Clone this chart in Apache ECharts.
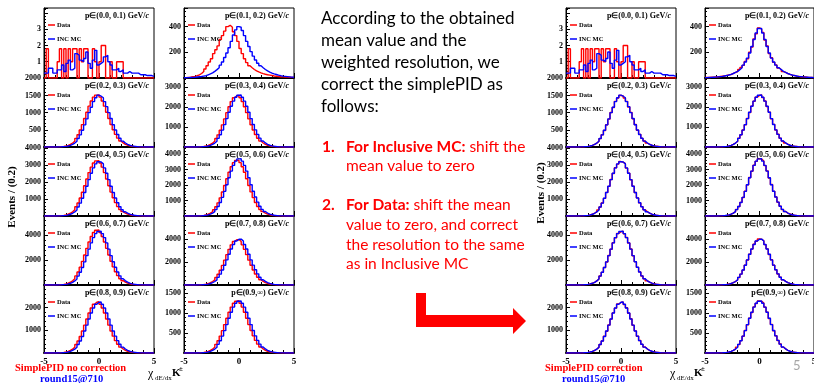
<!DOCTYPE html>
<html><head><meta charset="utf-8">
<script src="https://cdn.jsdelivr.net/npm/echarts@6/dist/echarts.min.js"></script>
<style>html,body{margin:0;padding:0;background:#fff}#c{width:814px;height:383px}</style>
</head><body><div id="c"></div>
<script>
// bin left edges (width 0.2)
const binEdges = [-5,-4.8,-4.6,-4.4,-4.2,-4,-3.8,-3.6,-3.4,-3.2,-3,-2.8,-2.6,-2.4,-2.2,-2,-1.8,-1.6,-1.4,-1.2,-1,-0.8,-0.6,-0.4,-0.2,0,0.2,0.4,0.6,0.8,1,1.2,1.4,1.6,1.8,2,2.2,2.4,2.6,2.8,3,3.2,3.4,3.6,3.8,4,4.2,4.4,4.6,4.8];
const momLabels = ['(0.0, 0.1)','(0.1, 0.2)','(0.2, 0.3)','(0.3, 0.4)','(0.4, 0.5)','(0.5, 0.6)','(0.6, 0.7)','(0.7, 0.8)','(0.8, 0.9)','(0.9,\u221e)'];
const yMax  = [4.3, 545, 2010, 3450, 4050, 4450, 5520, 6000, 3000, 1700];
const yStep = [1, 200, 500, 1000, 1000, 1000, 2000, 2000, 1000, 500];

// ---- p in (0.0,0.1) ----
const mc_p00 = [0.3,0.3,0.6,0.6,0.3, 0.3,0.5,0.5,0.8,0.4, 0.9,1.1,0.5,0.6,1.5, 1.4,1.1,1.0,1.2,1.6, 0.9,0.6,1.1,1.7,0.8, 0.9,1.0,1.3,1.4,1.0, 0.8,0.5,0.5,0.6,0.4, 0.5,0.3,0.3,0.4,0.3, 0.3,0.3,0.3,0.2,0.2, 0.2,0.15,0.15,0.15,0.1];
const data_p00 = [0,1.8,0,0,0, 0,1,1.8,0,1.8, 0,1.8,1,1.8,1.8, 0,1.8,1,1.8,1.8, 0,0,1.8,1,0, 1,2,2,0,0, 1,0,0,1,1, 1,0,0,0,0, 0,0,0,0,0, 0,0,0,0,0];
// ---- p in (0.1,0.2) ----
const mc_p01 = [2,3,4,5,6, 8,10,12,15,18, 25,32,40,52,65, 80,100,125,160,195, 235,285,335,375,400, 395,370,330,285,245, 205,170,140,115,95, 80,66,55,46,38, 32,27,22,18,15, 13,11,9,7,6];
const data_p01 = [3,5,7,10,13, 18,25,35,50,70, 95,125,150,190,220, 250,300,330,365,400, 410,395,360,330,285, 230,190,150,120,95, 80,66,55,47,40, 34,29,25,22,19, 16,14,12,10,9, 8,7,6,5,4];
const mcC_p01 = [3,4,5,6,7, 9,11,13,16,19, 23,28,35,43,52, 65,80,100,125,155, 195,245,300,350,385, 385,350,300,245,195, 155,125,100,80,65, 52,43,35,28,23, 19,16,13,11,9, 7,6,5,4,3];
const dataC_p01 = [4,4,6,6,8, 9,12,14,15,20, 24,27,36,44,50, 66,82,98,128,150, 200,240,305,345,390, 380,355,295,250,190, 158,122,102,78,66, 50,44,34,29,22, 20,15,13,10,9, 8,6,5,4,3];
// ---- p in (0.2,0.3) ----
const mc_p02 = [0,0,0,0,0, 2,3,6,10,18, 30,48,75,114,168, 249,354,488,645,819, 1000,1160,1323,1434,1510, 1480,1434,1323,1175,1000, 830,648,495,363,255, 172,117,78,51,33, 21,14,8,5,3, 2,0,0,0,0];
const data_p02 = [0,0,0,0,2, 3,6,10,18,30, 49,76,116,170,252, 359,494,653,830,1013, 1190,1340,1453,1512,1520, 1453,1340,1190,1013,830, 656,501,368,258,174, 119,79,52,33,21, 14,8,5,3,2, 0,0,0,0,0];
const dataC_p02 = [0,0,0,0,0, 2,4,6,11,17, 31,47,77,112,170, 245,358,482,650,812, 1005,1150,1330,1425,1500, 1490,1425,1330,1165,1010, 820,655,488,368,250, 175,114,80,50,34, 20,14,8,5,3, 2,0,0,0,0];
// ---- p in (0.3,0.4) ----
const mc_p03 = [0,0,0,0,0, 3,5,10,18,31, 52,83,130,198,291, 432,614,845,1118,1420, 1734,2036,2293,2486,2587, 2600,2486,2293,2036,1734, 1420,1123,858,629,442, 299,203,135,88,57, 36,23,13,8,5, 3,0,0,0,0];
const data_p03 = [0,0,0,0,3, 5,10,18,31,51, 82,129,196,288,428, 608,837,1107,1406,1717, 2016,2270,2461,2561,2575, 2461,2270,2016,1717,1406, 1112,849,623,438,296, 201,134,87,56,36, 23,13,8,5,3, 0,0,0,0,0];
const dataC_p03 = [0,0,0,0,0, 3,6,10,17,32, 50,85,128,201,288, 436,608,850,1110,1428, 1725,2045,2285,2495,2580, 2610,2475,2300,2025,1745, 1410,1130,850,635,438, 302,200,138,86,58, 35,24,13,8,5, 3,0,0,0,0];
// ---- p in (0.4,0.5) ----
const mc_p04 = [0,0,0,0,0, 3,6,13,22,38, 64,102,160,243,358, 531,755,1040,1376,1747, 2134,2506,2822,3059,3184, 3170,3059,2822,2506,2134, 1747,1382,1056,774,544, 368,250,166,109,70, 45,29,16,10,6, 3,0,0,0,0];
const data_p04 = [0,0,0,0,3, 6,13,22,39,65, 104,163,247,364,540, 767,1057,1398,1775,2168, 2546,2867,3108,3235,3250, 3108,2867,2546,2168,1775, 1404,1073,786,553,374, 254,169,111,71,46, 29,16,10,6,3, 0,0,0,0,0];
const dataC_p04 = [0,0,0,0,0, 3,7,12,23,37, 66,100,163,240,362, 525,762,1032,1385,1740, 2145,2495,2835,3045,3195, 3160,3070,2810,2515,2125, 1755,1375,1062,768,548, 364,254,163,111,68, 46,28,17,10,6, 3,0,0,0,0];
// ---- p in (0.5,0.6) ----
const mc_p05 = [0,0,0,0,0, 4,7,15,26,44, 74,118,185,281,414, 614,873,1203,1591,2020, 2468,2897,3263,3537,3682, 3690,3537,3263,2897,2468, 2020,1598,1221,895,629, 426,289,192,126,81, 52,33,19,11,7, 4,0,0,0,0];
const data_p05 = [0,0,0,0,4, 7,15,25,43,72, 115,180,273,403,597, 849,1170,1548,1965,2401, 2819,3175,3441,3582,3600, 3441,3175,2819,2401,1965, 1555,1188,871,612,414, 281,187,123,79,51, 32,18,11,7,4, 0,0,0,0,0];
const dataC_p05 = [0,0,0,0,0, 4,8,14,27,43, 76,116,188,278,418, 608,880,1195,1600,2010, 2480,2885,3275,3525,3695, 3675,3550,3250,2910,2455, 2030,1590,1230,888,634, 422,293,189,128,79, 53,32,20,11,7, 4,0,0,0,0];
// ---- p in (0.6,0.7) ----
const mc_p06 = [0,0,0,0,0, 4,9,17,30,52, 86,138,215,327,482, 714,1015,1398,1849,2348, 2868,3367,3793,4111,4279, 4300,4111,3793,3367,2868, 2348,1858,1419,1041,731, 495,335,224,146,95, 60,39,22,13,9, 4,0,0,0,0];
const data_p06 = [0,0,0,0,4, 9,17,31,53,88, 141,220,335,493,730, 1038,1430,1892,2402,2934, 3444,3880,4206,4378,4400, 4206,3880,3444,2934,2402, 1901,1452,1065,748,506, 343,229,149,97,61, 40,23,13,9,4, 0,0,0,0,0];
const dataC_p06 = [0,0,0,0,0, 5,8,18,29,53, 85,140,212,330,478, 720,1008,1405,1840,2360, 2855,3380,3780,4125,4265, 4310,4095,3805,3355,2880, 2335,1870,1410,1048,725, 500,330,228,143,97, 58,40,21,14,8, 4,0,0,0,0];
// ---- p in (0.7,0.8) ----
const mc_p07 = [0,0,0,0,0, 4,8,16,28,48, 80,128,200,304,448, 664,944,1300,1720,2184, 2668,3132,3528,3824,3980, 3990,3824,3528,3132,2668, 2184,1728,1320,968,680, 460,312,208,136,88, 56,36,20,12,8, 4,0,0,0,0];
const data_p07 = [0,0,0,0,4, 8,16,28,48,79, 127,198,301,444,657, 935,1287,1703,2162,2641, 3101,3493,3786,3940,3950, 3786,3493,3101,2641,2162, 1711,1307,958,673,455, 309,206,135,87,55, 36,20,12,8,4, 0,0,0,0,0];
const dataC_p07 = [0,0,0,0,0, 4,9,15,29,47, 82,126,204,300,452, 658,950,1292,1730,2175, 2680,3120,3540,3810,3995, 3975,3840,3515,3145,2655, 2195,1718,1330,960,688, 455,316,205,138,86, 57,35,21,12,8, 4,0,0,0,0];
// ---- p in (0.8,0.9) ----
const mc_p08 = [0,0,0,0,0, 2,5,9,16,27, 45,72,113,171,252, 374,531,731,968,1229, 1501,1762,1985,2151,2239, 2250,2151,1985,1762,1501, 1229,972,743,545,383, 259,176,117,77,50, 32,20,11,7,5, 2,0,0,0,0];
const data_p08 = [0,0,0,0,2, 5,9,16,27,45, 72,113,171,252,374, 531,731,968,1229,1501, 1762,1985,2151,2239,2260, 2151,1985,1762,1501,1229, 972,743,545,383,259, 176,117,77,50,32, 20,11,7,5,2, 0,0,0,0,0];
const dataC_p08 = [0,0,0,0,0, 2,5,10,15,28, 44,73,111,174,249, 378,527,738,962,1235, 1495,1770,1978,2160,2230, 2255,2140,1995,1755,1508, 1222,978,738,549,380, 262,174,119,76,51, 31,21,11,7,5, 2,0,0,0,0];
// ---- p in (0.9,inf) ----
const mc_p09 = [0,0,0,0,0, 1,3,5,9,16, 26,42,65,99,146, 216,307,423,559,710, 867,1018,1147,1243,1294, 1300,1243,1147,1018,867, 710,562,429,315,221, 150,101,68,44,29, 18,12,7,4,3, 1,0,0,0,0];
const data_p09 = [0,0,0,0,1, 3,5,9,16,26, 42,65,99,146,216, 307,423,559,710,867, 1018,1147,1243,1294,1310, 1243,1147,1018,867,710, 562,429,315,221,150, 101,68,44,29,18, 12,7,4,3,1, 0,0,0,0,0];
const dataC_p09 = [0,0,0,0,0, 1,3,6,9,15, 27,41,66,97,148, 214,310,420,563,705, 872,1012,1152,1238,1300, 1290,1248,1142,1022,862, 715,558,432,312,224, 148,103,67,45,28, 19,11,7,4,3, 1,0,0,0,0];

const blocks = [
  { mc:[mc_p00,mc_p01,mc_p02,mc_p03,mc_p04,mc_p05,mc_p06,mc_p07,mc_p08,mc_p09],
    data:[data_p00,data_p01,data_p02,data_p03,data_p04,data_p05,data_p06,data_p07,data_p08,data_p09],
    colLeft:[44,184], colW:[110,110] },
  { mc:[mc_p00,mcC_p01,mc_p02,mc_p03,mc_p04,mc_p05,mc_p06,mc_p07,mc_p08,mc_p09],
    data:[data_p00,dataC_p01,dataC_p02,dataC_p03,dataC_p04,dataC_p05,dataC_p06,dataC_p07,dataC_p08,dataC_p09],
    colLeft:[566,705], colW:[110,109] }
];
const rowTop = [8,78,147,216,285];
const rowH = [70,69,69,69,68];

const SERIF = '"Liberation Serif","Times New Roman",serif';
const SANS = 'Lato, "Open Sans", sans-serif';
const RED = '#ff0000', BLUE = '#0000ff';

function toSteps(vals){
  const d = binEdges.map((x,i)=>[x, vals[i]]);
  d.push([5, vals[vals.length-1]]);
  return d;
}

const grids=[], xAxes=[], yAxes=[], series=[], graphics=[];
let idx=0;
blocks.forEach((blk,b)=>{
  for(let k=0;k<10;k++){
    const r=Math.floor(k/2), c=k%2;
    const L=blk.colLeft[c], T=rowTop[r], W=blk.colW[c], H=rowH[r];
    grids.push({left:L, top:T, width:W, height:H, show:true, borderColor:'#000', borderWidth:1,
      backgroundColor:'transparent', containLabel:false, outerBoundsMode:'none'});
    xAxes.push({gridIndex:idx, type:'value', min:-5, max:5, interval:5,
      axisLine:{show:true, onZero:false, lineStyle:{color:'#000', width:2}},
      axisTick:{show:true, inside:true, length:5, lineStyle:{color:'#000'}},
      minorTick:{show:true, splitNumber:5, length:3, lineStyle:{color:'#000'}},
      splitLine:{show:false},
      axisLabel:{show:r===4, color:'#000', fontFamily:SERIF, fontWeight:'bold', fontSize:9, margin:4}});
    const kk=k;
    yAxes.push({gridIndex:idx, type:'value', min:0, max:yMax[k], interval:yStep[k],
      axisLine:{show:true, onZero:false, lineStyle:{color:'#000', width:1}},
      axisTick:{show:true, inside:true, length:4, lineStyle:{color:'#000'}},
      minorTick:{show:true, splitNumber:5, length:2, lineStyle:{color:'#000'}},
      splitLine:{show:false},
      axisLabel:{show:true, color:'#000', fontFamily:SERIF, fontWeight:'bold', fontSize:8, margin:3,
        showMinLabel:false, showMaxLabel:false,
        formatter:(v)=> (kk===0 && v>3.5) ? '' : String(v)}});
    series.push({type:'line', xAxisIndex:idx, yAxisIndex:idx, step:'end', symbol:'none',
      data:toSteps(blk.data[k]), lineStyle:{color:RED, width:1.4}, z:3, silent:true});
    series.push({type:'line', xAxisIndex:idx, yAxisIndex:idx, step:'end', symbol:'none',
      data:toSteps(blk.mc[k]), lineStyle:{color:BLUE, width:1.4}, z:4, silent:true});
    // panel title
    graphics.push({type:'text', x:L+W-5, y:T+8, z:10, style:{
      text:'p\u2208'+momLabels[k]+' GeV/{i|c}', align:'right', textAlign:'right',
      verticalAlign:'middle', textVerticalAlign:'middle',
      fontFamily:SERIF, fontWeight:'bold', fontSize:8, fill:'#000',
      rich:{i:{fontStyle:'italic', fontFamily:SERIF, fontWeight:'bold', fontSize:8, fill:'#000'}}}});
    // legend
    graphics.push({type:'line', z:10, shape:{x1:L+4,y1:T+17,x2:L+11,y2:T+17}, style:{stroke:RED, lineWidth:1.5}});
    graphics.push({type:'text', x:L+13, y:T+17, z:10, style:{text:'Data', verticalAlign:'middle', textVerticalAlign:'middle',
      fontFamily:SERIF, fontWeight:'bold', fontSize:6.5, fill:'#000'}});
    graphics.push({type:'line', z:10, shape:{x1:L+4,y1:T+31,x2:L+11,y2:T+31}, style:{stroke:BLUE, lineWidth:1.5}});
    graphics.push({type:'text', x:L+13, y:T+31, z:10, style:{text:'INC MC', verticalAlign:'middle', textVerticalAlign:'middle',
      fontFamily:SERIF, fontWeight:'bold', fontSize:6.5, fill:'#000'}});
    idx++;
  }
});

function txt(x,y,text,opt){
  return Object.assign({type:'text', x:x, y:y, z:10}, {style:Object.assign({text:text, verticalAlign:'middle', textVerticalAlign:'middle'}, opt)});
}
// block annotations
[[12,197,'left'],[541,193,'right']].forEach(([x,y])=>{
  const t = txt(x,y,'Events / (0.2)',{align:'center', textAlign:'center', fontFamily:SERIF, fontWeight:'bold', fontSize:11, fill:'#000'});
  t.rotation = Math.PI/2;
  graphics.push(t);
});
graphics.push(txt(15,368,'SimplePID no correction',{fontFamily:SERIF, fontWeight:'bold', fontSize:10.5, fill:RED}));
graphics.push(txt(40,379,'round15@710',{fontFamily:SERIF, fontWeight:'bold', fontSize:10.5, fill:BLUE}));
graphics.push(txt(545,368,'SimplePID correction',{fontFamily:SERIF, fontWeight:'bold', fontSize:10.5, fill:RED}));
graphics.push(txt(562,379,'round15@710',{fontFamily:SERIF, fontWeight:'bold', fontSize:10.5, fill:BLUE}));
[[148],[670]].forEach(([x0])=>{
  graphics.push(txt(x0,374,'\u03c7',{fontFamily:SERIF, fontSize:12, fill:'#000'}));
  graphics.push(txt(x0+7,378,'dE/dx',{fontFamily:SERIF, fontSize:7, fill:'#000'}));
  graphics.push(txt(x0+24,373,'K',{fontFamily:SERIF, fontWeight:'bold', fontSize:11, fill:'#000'}));
  graphics.push(txt(x0+31,369,'\u00b1',{fontFamily:SERIF, fontWeight:'bold', fontSize:7, fill:'#000'}));
});
// middle text
const introLines = ['According to the obtained','mean value and the','weighted resolution, we','correct the simplePID as','follows:'];
introLines.forEach((s,i)=>graphics.push(txt(321,19+i*22,s,{fontFamily:SANS, fontSize:17, fill:'#000'})));
const listLines = [
  [322,147,'1.','{b|For Inclusive MC:} shift the'],
  [346,166,null,'mean value to zero'],
  [322,205,'2.','{b|For Data:} shift the mean'],
  [346,225,null,'value to zero, and correct'],
  [346,245,null,'the resolution to the same'],
  [346,264,null,'as in Inclusive MC']
];
listLines.forEach(([x,y,num,s])=>{
  if(num) graphics.push(txt(x,y,num,{fontFamily:SANS, fontWeight:'bold', fontSize:15.5, fill:RED}));
  graphics.push(txt(346,y,s,{fontFamily:SANS, fontSize:15.5, fill:RED,
    rich:{b:{fontFamily:SANS, fontWeight:'bold', fontSize:15.5, fill:RED}}}));
});
graphics.push({type:'polygon', z:10, shape:{points:[[416,293],[426,293],[426,315],[513,315],[513,308],[526,321],[513,334],[513,327],[416,327]]},
  style:{fill:RED}});
graphics.push(txt(793,366,'5',{fontFamily:SANS, fontSize:13, fill:'#a6a6a6'}));

const chart = echarts.init(document.getElementById('c'), null, {renderer:'canvas'});
chart.setOption({animation:false, backgroundColor:'#fff', grid:grids, xAxis:xAxes, yAxis:yAxes, series:series, graphic:graphics});
</script></body></html>
